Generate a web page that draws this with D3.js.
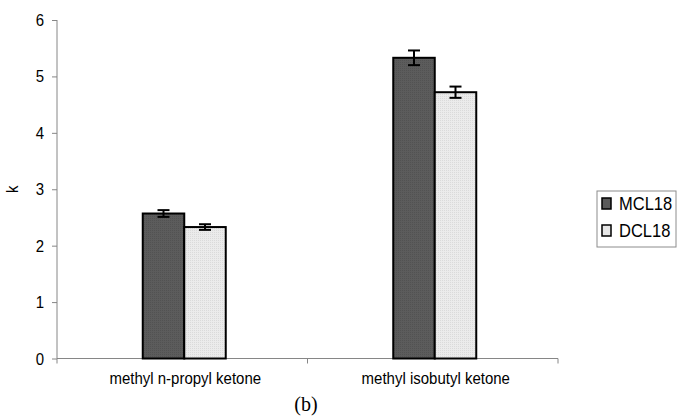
<!DOCTYPE html>
<html>
<head>
<meta charset="utf-8">
<script src="https://cdn.jsdelivr.net/npm/d3@7"></script>
<style>
  body { margin: 0; background: #fff; }
  svg { display: block; font-family: Arial, "Liberation Sans", sans-serif; }
</style>
</head>
<body>
<svg width="677" height="416"></svg>
<script>
// Categories and series
const categories = ['methyl n-propyl ketone', 'methyl isobutyl ketone']
const seriesNames = ['MCL18', 'DCL18']
const mcl18 = [2.57, 5.33]
const dcl18 = [2.33, 4.72]
const mcl18Err = [0.06, 0.13]
const dcl18Err = [0.05, 0.10]
const yTicks = [0, 1, 2, 3, 4, 5, 6]

const values = [mcl18, dcl18]
const errors = [mcl18Err, dcl18Err]
const fills = ['url(#darkDots)', 'url(#lightDots)']
const swatch = ['#5a5a5a', '#e6e6e6']

// the source figure is slightly stretched vertically, text included
const stretch = 1.15

const svg = d3.select('svg')

// Fine dotted textures like the original fill
const defs = svg.append('defs')
const addPattern = (id, base, dot) => {
  const p = defs.append('pattern')
    .attr('id', id)
    .attr('width', 2)
    .attr('height', 2)
    .attr('patternUnits', 'userSpaceOnUse')
  p.append('rect').attr('width', 2).attr('height', 2).attr('fill', base)
  p.append('rect').attr('width', 1).attr('height', 1).attr('fill', dot)
}
addPattern('darkDots', '#5c5c5c', '#525252')
addPattern('lightDots', '#ebebeb', '#dadada')

const x = d3.scaleBand().domain(categories).range([57, 558])
const y = d3.scaleLinear().domain([0, 6]).range([358.5, 20])

// Bars sit as a pair in the middle of each category band
const barW = 41.5
const inner = d3.scaleBand().domain(seriesNames)
  .range([x.bandwidth() / 2 - barW + 2, x.bandwidth() / 2 + barW + 2])

// y axis
const yAxis = svg.append('g')
  .attr('transform', 'translate(57,0)')
  .call(d3.axisLeft(y).tickValues(yTicks).tickSize(5).tickPadding(8).tickFormat(d3.format('d')))
yAxis.select('.domain').attr('stroke', '#868686').attr('d', `M0,${y(6)}V${y(0)}`)
yAxis.selectAll('.tick line').attr('stroke', '#868686')
yAxis.selectAll('.tick text')
  .attr('fill', '#000')
  .attr('dy', null)
  .attr('y', null)
  .attr('transform', `translate(0,${5.5}) scale(1,${stretch})`)
  .style('font-size', '15px')
  .attr('font-family', 'Arial, "Liberation Sans", sans-serif')

// x axis with ticks at the band edges
const xAxis = svg.append('g').attr('transform', `translate(0,${y(0)})`)
xAxis.append('line')
  .attr('x1', x.range()[0]).attr('x2', x.range()[1])
  .attr('stroke', '#868686')
xAxis.selectAll('line.tk')
  .data([...categories.map((c) => x(c)), x.range()[1]])
  .enter()
  .append('line')
  .attr('class', 'tk')
  .attr('x1', (d) => d).attr('x2', (d) => d)
  .attr('y1', 0).attr('y2', 5)
  .attr('stroke', '#868686')
xAxis.selectAll('text')
  .data(categories)
  .enter()
  .append('text')
  .attr('transform', (d) => `translate(${x(d) + x.bandwidth() / 2 + 3},25.5) scale(1,${stretch})`)
  .attr('text-anchor', 'middle')
  .style('font-size', '15px')
  .text((d) => d)

// bars
const groups = svg.selectAll('g.series')
  .data(seriesNames)
  .enter()
  .append('g')
  .attr('class', 'series')

groups.each((name, s, nodes) => {
  const g = d3.select(nodes[s])
  g.selectAll('rect')
    .data(categories)
    .enter()
    .append('rect')
    .attr('x', (c) => x(c) + inner(name))
    .attr('y', (c, i) => y(values[s][i]))
    .attr('width', inner.bandwidth())
    .attr('height', (c, i) => y(0) - y(values[s][i]))
    .attr('fill', fills[s])
    .attr('stroke', '#000')
    .attr('stroke-width', 2)

  // error bars
  const cx = (c) => x(c) + inner(name) + inner.bandwidth() / 2
  const eb = g.selectAll('g.err')
    .data(categories)
    .enter()
    .append('g')
    .attr('class', 'err')
    .attr('stroke', '#000')
    .attr('stroke-width', 2)
  eb.append('line')
    .attr('x1', cx).attr('x2', cx)
    .attr('y1', (c, i) => y(values[s][i] + errors[s][i]))
    .attr('y2', (c, i) => y(values[s][i] - errors[s][i]))
  eb.append('line')
    .attr('x1', (c) => cx(c) - 6).attr('x2', (c) => cx(c) + 6)
    .attr('y1', (c, i) => y(values[s][i] + errors[s][i]))
    .attr('y2', (c, i) => y(values[s][i] + errors[s][i]))
  eb.append('line')
    .attr('x1', (c) => cx(c) - 6).attr('x2', (c) => cx(c) + 6)
    .attr('y1', (c, i) => y(values[s][i] - errors[s][i]))
    .attr('y2', (c, i) => y(values[s][i] - errors[s][i]))
})

// y label
svg.append('text')
  .attr('transform', `translate(18,${y(3)}) rotate(-90) scale(1,${stretch})`)
  .attr('text-anchor', 'middle')
  .style('font-size', '15px')
  .text('k')

// legend
const legend = svg.append('g').attr('transform', 'translate(597,191)')
legend.append('rect')
  .attr('width', 79).attr('height', 56)
  .attr('fill', '#fff').attr('stroke', '#8c8c8c')
const items = legend.selectAll('g.item')
  .data(seriesNames)
  .enter()
  .append('g')
  .attr('class', 'item')
  .attr('transform', (_, i) => `translate(5,${7 + i * 27})`)
items.append('rect')
  .attr('width', 9).attr('height', 11)
  .attr('fill', (_, i) => swatch[i])
  .attr('stroke', '#000').attr('stroke-width', 1.5)
items.append('text')
  .attr('transform', `translate(17,12) scale(1,${stretch})`)
  .style('font-size', '16.5px')
  .text((d) => d)

// panel caption
svg.append('text')
  .attr('x', 306).attr('y', 411)
  .attr('text-anchor', 'middle')
  .attr('font-family', '"Liberation Serif", "Times New Roman", serif')
  .style('font-size', '20px')
  .text('(b)')
</script>
</body>
</html>
